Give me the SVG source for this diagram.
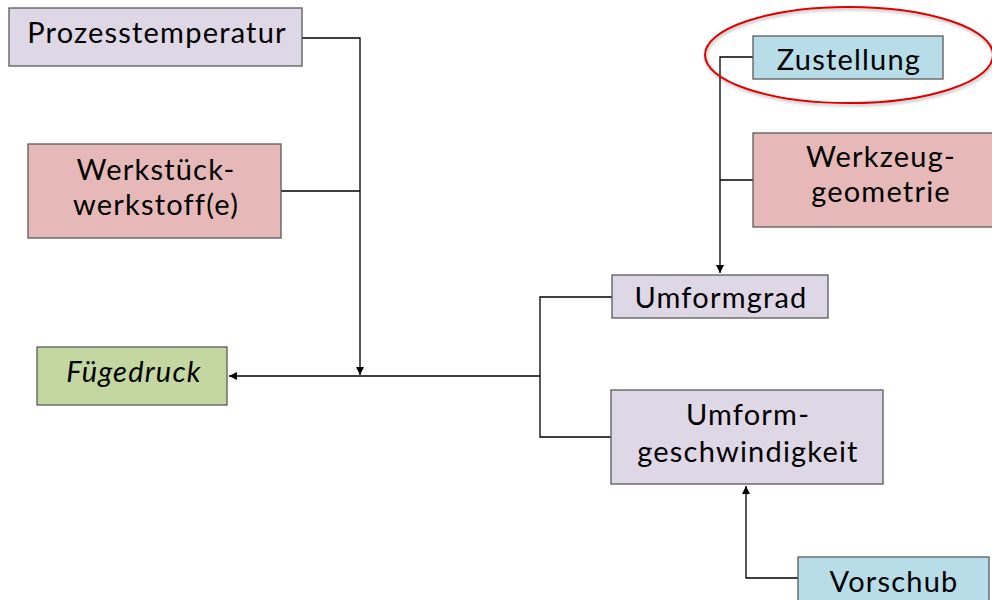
<svg xmlns="http://www.w3.org/2000/svg" width="992" height="600" viewBox="0 0 992 600">
<defs>
<marker id="ah" viewBox="0 0 10 10" refX="10" refY="5" markerWidth="8" markerHeight="8" markerUnits="userSpaceOnUse" orient="auto">
<path d="M0,0 L10,5 L0,10 Z" fill="#000"/>
</marker>
<filter id="sh" x="-10%" y="-20%" width="120%" height="140%">
<feGaussianBlur in="SourceAlpha" stdDeviation="1.5"/>
<feOffset dx="1" dy="2"/>
<feComponentTransfer><feFuncA type="linear" slope="0.3"/></feComponentTransfer>
<feMerge><feMergeNode/><feMergeNode in="SourceGraphic"/></feMerge>
</filter>
</defs>
<style>
.box{stroke:#5a5a5a;stroke-width:1.3}
.lav{fill:#DED8E6}
.red{fill:#E6B9B8}
.grn{fill:#C4D7A0}
.blu{fill:#B7DDE8}
text{font-family:Lato,"Open Sans",sans-serif;font-size:29px;letter-spacing:1.2px;fill:#000;text-anchor:middle}
.it{font-style:italic}
.c{fill:none;stroke:#000;stroke-width:1.3}
</style>
<rect width="992" height="600" fill="#fff"/>
<g id="connectors">
<path class="c" d="M302,38 H360 V375" marker-end="url(#ah)"/>
<path class="c" d="M281,191 H360"/>
<path class="c" d="M540,376 H229" marker-end="url(#ah)"/>
<path class="c" d="M612,297 H540 V437 H611"/>
<path class="c" d="M753,57 H720 V273" marker-end="url(#ah)"/>
<path class="c" d="M753,180 H720"/>
<path class="c" d="M798,578 H746 V486" marker-end="url(#ah)"/>
</g>
<g id="prozesstemperatur">
<rect class="box lav" x="9" y="8" width="293" height="58"/>
<text x="157" y="43">Prozesstemperatur</text>
</g>
<g id="werkstueck">
<rect class="box red" x="28" y="144" width="253" height="94"/>
<text x="156" y="180">Werkstück-</text>
<text x="156" y="215">werkstoff(e)</text>
</g>
<g id="fuegedruck">
<rect class="box grn" x="37" y="347" width="190" height="58"/>
<text class="it" x="134" y="382">Fügedruck</text>
</g>
<g id="zustellung">
<rect class="box blu" x="753" y="36" width="190" height="43"/>
<text x="849" y="70">Zustellung</text>
</g>
<g id="werkzeuggeometrie">
<rect class="box red" x="753" y="133" width="250" height="94"/>
<text x="881" y="167">Werkzeug-</text>
<text x="881" y="202">geometrie</text>
</g>
<g id="umformgrad">
<rect class="box lav" x="612" y="275" width="216" height="43"/>
<text x="721" y="308">Umformgrad</text>
</g>
<g id="umformgeschwindigkeit">
<rect class="box lav" x="611" y="390" width="272" height="94"/>
<text x="748" y="425">Umform-</text>
<text x="748" y="462">geschwindigkeit</text>
</g>
<g id="vorschub">
<rect class="box blu" x="798" y="557" width="191" height="50"/>
<text x="894" y="592">Vorschub</text>
</g>
<ellipse cx="849" cy="55" rx="144" ry="48" fill="none" stroke="#e00000" stroke-width="2" filter="url(#sh)"/>
</svg>
